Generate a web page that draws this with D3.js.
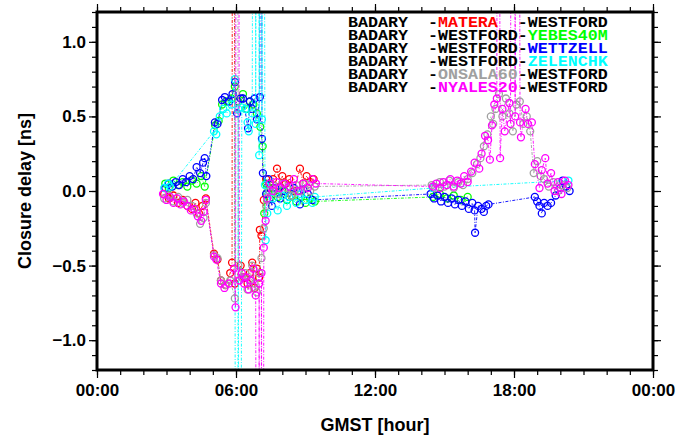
<!DOCTYPE html>
<html><head><meta charset="utf-8">
<script src="https://cdn.jsdelivr.net/npm/d3@7"></script>
<style>
body{margin:0;background:#fff;}
svg{display:block;}
</style></head>
<body><svg id="c" width="687" height="437"></svg>
<script>
// ---- data: [GMST hour, closure delay ns] ----
const matera = [[2.9,-0.02],[3.1,-0.05],[3.3,-0.03],[3.5,-0.08],[3.7,-0.06],[3.9,-0.1],[4.1,-0.12],[4.25,-0.08],[4.4,-0.15],[4.55,-0.1],[4.7,-0.05],[5.05,-0.42],[5.2,-0.46],[5.35,-0.6],[5.55,-0.63],[5.75,-0.55],[5.83,-0.48],[5.87,9],[5.95,-0.62],[6.2,-0.5],[6.35,-0.58],[6.5,-0.62],[6.6,-0.55],[6.7,-0.48],[6.8,-0.65],[6.9,-0.52],[7.0,-0.58],[7.03,-0.26],[7.1,-0.3],[7.2,-0.06],[7.3,0.08],[7.45,0.02],[7.6,0.08],[7.77,0.15],[7.9,0.03],[8.0,0.1],[8.15,0.05],[8.3,0.08],[8.5,0.0],[8.76,0.15],[8.9,0.05],[9.05,0.1],[9.2,0.06],[9.35,0.08]];
const yebes = [[2.95,0.05],[3.1,0.02],[3.3,0.07],[3.5,0.04],[3.7,0.06],[3.9,0.03],[4.1,0.07],[4.3,0.05],[4.5,0.1],[4.65,0.03],[5.1,0.44],[5.25,0.47],[5.4,0.58],[5.6,0.6],[5.8,0.62],[5.95,0.7],[6.1,0.6],[6.3,0.65],[6.45,0.55],[6.6,0.6],[6.75,0.58],[6.9,0.52],[7.05,0.43],[7.15,0.3],[7.22,-0.15],[7.3,0.05],[7.45,-0.05],[7.6,0.02],[7.8,-0.04],[8.0,0.0],[8.2,-0.06],[8.4,-0.03],[8.6,-0.07],[8.8,-0.04],[9.0,-0.08],[9.2,-0.05],[9.4,-0.07],[14.5,-0.04],[14.8,-0.02],[15.1,-0.05],[15.4,-0.03],[15.7,-0.06],[16.0,-0.04]];
const wettzell = [[2.95,0.02],[3.1,0.05],[3.25,0.03],[3.4,0.06],[3.55,0.04],[3.7,0.08],[3.85,0.06],[4.0,0.1],[4.15,0.08],[4.3,0.16],[4.45,0.12],[4.58,0.19],[4.65,0.22],[4.72,0.1],[5.09,0.46],[5.2,0.45],[5.4,0.61],[5.52,0.63],[5.7,0.6],[5.85,0.65],[5.96,0.73],[6.05,0.52],[6.2,0.62],[6.3,0.62],[6.52,0.42],[6.6,0.6],[6.7,0.55],[6.8,0.62],[6.9,0.48],[7.03,0.63],[7.08,9],[7.12,0.35],[7.16,0.12],[7.3,-0.02],[7.4,0.08],[7.55,-0.1],[7.7,0.02],[7.9,-0.05],[8.1,0.0],[8.3,-0.04],[8.5,0.02],[8.76,-0.09],[8.9,0.01],[9.1,-0.02],[9.3,-0.06],[14.4,-0.02],[14.55,-0.05],[14.7,-0.03],[14.85,-0.07],[15.0,-0.04],[15.15,-0.08],[15.3,-0.05],[15.45,-0.09],[15.6,-0.06],[15.75,-0.1],[15.9,-0.07],[16.05,-0.12],[16.2,-0.08],[16.3,-0.13],[16.32,-0.28],[16.45,-0.1],[16.6,-0.12],[16.7,-0.14],[16.8,-0.1],[16.9,-0.09],[18.9,-0.04],[19.0,-0.07],[19.1,-0.1],[19.2,-0.15],[19.3,-0.08],[19.45,-0.1],[19.6,-0.08],[19.8,-0.03],[20.0,0.02],[20.1,0.07],[20.25,0.03],[20.4,0.0]];
const zelenchk = [[2.9,0.02],[3.07,0.05],[3.15,0.03],[5.05,0.4],[5.15,0.38],[5.3,0.5],[5.45,0.55],[5.6,0.52],[5.8,0.58],[5.95,0.75],[6.02,-9],[6.1,0.55],[6.15,-9],[6.25,0.56],[6.4,0.55],[6.5,0.46],[6.55,0.4],[6.7,0.52],[6.8,9],[6.85,0.45],[6.95,9],[7.0,0.24],[7.05,9],[7.12,0.48],[7.15,9],[7.25,0.04],[7.28,-0.33],[7.35,-0.15],[7.45,0.0],[7.6,-0.05],[7.8,-0.13],[8.0,-0.03],[8.2,-0.1],[8.3,-0.04],[8.6,-0.08],[8.8,-0.02],[9.0,-0.06],[9.3,-0.08],[9.4,-0.04],[14.5,0.02],[20.35,0.07]];
const onsala = [[2.9,-0.05],[3.1,-0.03],[3.3,-0.07],[3.5,-0.04],[3.7,-0.08],[3.9,-0.06],[4.1,-0.1],[4.3,-0.15],[4.45,-0.22],[4.6,-0.18],[4.7,-0.08],[5.05,-0.43],[5.2,-0.45],[5.35,-0.6],[5.55,-0.63],[5.75,-0.6],[5.95,-0.72],[6.0,9],[6.1,-0.5],[6.25,-0.58],[6.4,-0.55],[6.5,-0.66],[6.6,-0.6],[6.7,-0.5],[6.8,-0.62],[6.9,-0.68],[7.0,-0.55],[7.1,-0.45],[7.2,-0.25],[7.3,-0.1],[7.45,0.0],[7.6,0.04],[7.8,-0.02],[8.0,0.05],[8.2,0.02],[8.4,-0.03],[8.6,0.04],[8.8,0.0],[9.0,0.05],[9.2,0.0],[9.4,0.03],[14.45,0.04],[14.6,0.02],[14.8,0.06],[15.0,0.03],[15.2,0.07],[15.4,0.02],[15.6,0.06],[15.8,0.04],[16.0,0.08],[16.2,0.12],[16.4,0.18],[16.55,0.22],[16.7,0.3],[16.85,0.38],[17.0,0.5],[17.1,0.45],[17.2,0.55],[17.35,0.65],[17.5,0.5],[17.65,0.62],[17.8,0.52],[17.95,0.4],[18.1,0.58],[18.25,0.6],[18.4,0.45],[18.55,0.5],[18.7,0.4],[18.85,0.12],[19.0,0.2],[19.15,0.1],[19.3,0.08],[19.5,0.03],[19.7,0.06],[19.9,0.0],[20.1,0.04],[20.3,0.02]];
const nyales = [[2.85,-0.02],[3.0,-0.06],[3.15,-0.04],[3.3,-0.08],[3.45,-0.05],[3.6,-0.09],[3.75,-0.07],[3.9,-0.1],[4.05,-0.13],[4.2,-0.12],[4.35,-0.17],[4.5,-0.2],[4.6,-0.14],[4.7,-0.06],[5.05,-0.44],[5.15,-0.46],[5.35,-0.62],[5.5,-0.65],[5.7,-0.62],[5.91,-0.52],[5.98,-0.78],[6.05,9],[6.15,-0.6],[6.25,-0.55],[6.35,-0.62],[6.45,-0.58],[6.55,-0.66],[6.65,-0.6],[6.75,-0.52],[6.85,-0.7],[6.95,-9],[7.0,-0.62],[7.05,-9],[7.1,-0.55],[7.15,-9],[7.2,-0.38],[7.28,-0.2],[7.35,-0.05],[7.45,0.05],[7.6,0.0],[7.75,0.06],[7.9,0.02],[8.1,0.05],[8.3,0.03],[8.5,0.08],[8.7,0.0],[8.9,0.05],[9.1,0.02],[9.3,0.08],[9.45,0.05],[14.5,0.03],[14.65,0.05],[14.8,0.02],[14.95,0.06],[15.1,0.04],[15.25,0.08],[15.4,0.03],[15.55,0.07],[15.7,0.05],[15.85,0.1],[16.0,0.06],[16.15,0.13],[16.3,0.19],[16.5,0.15],[16.6,0.25],[16.75,0.37],[16.88,0.34],[16.96,0.21],[17.05,0.44],[17.15,0.58],[17.26,0.62],[17.3,9],[17.4,0.22],[17.5,0.55],[17.6,0.4],[17.8,0.59],[17.85,0.45],[17.95,9],[18.05,0.5],[18.15,9],[18.26,0.46],[18.3,0.36],[18.5,0.55],[18.6,0.45],[18.77,0.46],[18.9,0.18],[19.1,0.02],[19.2,0.14],[19.35,0.22],[19.45,0.05],[19.6,0.12],[19.75,0.0],[19.9,0.06],[20.05,-0.02],[20.2,0.07],[20.35,0.04]];

const seriesNames = ["MATERA","YEBES40M","WETTZELL","ZELENCHK","ONSALA60","NYALES20"];
const seriesColors = ["#ff0000","#00ff00","#0000ff","#00ffff","#a0a0a0","#ff00ff"];
const seriesData = [matera, yebes, wettzell, zelenchk, onsala, nyales];
const legendRows = [
  ["BADARY  -","MATERA","  -WESTFORD"],
  ["BADARY  -WESTFORD-","YEBES40M",""],
  ["BADARY  -WESTFORD-","WETTZELL",""],
  ["BADARY  -WESTFORD-","ZELENCHK",""],
  ["BADARY  -","ONSALA60","-WESTFORD"],
  ["BADARY  -","NYALES20","-WESTFORD"]
];
const xMajor = [0,6,12,18,24];
const xLabels = ["00:00","06:00","12:00","18:00","00:00"];
const yMajor = [-1.0,-0.5,0.0,0.5,1.0];

const svg = d3.select("#c");
const L=97,R=653,T=12,B=370;
const x = d3.scaleLinear().domain([0,24]).range([L,R]);
const y = d3.scaleLinear().domain([-1.2,1.2]).range([B,T]);

svg.append("defs").append("clipPath").attr("id","clip")
  .append("rect").attr("x",L).attr("y",T).attr("width",R-L).attr("height",B-T);

const plot = svg.append("g").attr("clip-path","url(#clip)");
const line = d3.line().x(d=>x(d[0])).y(d=>y(d[1]));
seriesData.forEach((data,i)=>{
  const g = plot.append("g");
  g.append("path").datum(data).attr("d",line).attr("fill","none")
    .attr("stroke",seriesColors[i]).attr("stroke-width",0.9).attr("stroke-dasharray","3,1.5,1,1.5");
  g.selectAll("circle").data(data).join("circle")
    .attr("cx",d=>x(d[0])).attr("cy",d=>y(d[1])).attr("r",3.5)
    .attr("fill","none").attr("stroke",seriesColors[i]).attr("stroke-width",1.3);
});

// axes
const font = "'Liberation Sans', Arial, sans-serif";
function styleAxis(g){ g.select(".domain").remove(); g.selectAll("line").attr("stroke","#000").attr("stroke-width",1.2); }
const xMinor = d3.range(0,25,1), yMinor = d3.range(-12,13,1).map(v=>v/10);
svg.append("g").attr("transform",`translate(0,${B})`).call(d3.axisBottom(x).tickValues(xMinor).tickSize(5).tickFormat("")).call(styleAxis);
svg.append("g").attr("transform",`translate(0,${T})`).call(d3.axisTop(x).tickValues(xMinor).tickSize(5).tickFormat("")).call(styleAxis);
svg.append("g").attr("transform",`translate(${L},0)`).call(d3.axisLeft(y).tickValues(yMinor).tickSize(5).tickFormat("")).call(styleAxis);
svg.append("g").attr("transform",`translate(${R},0)`).call(d3.axisRight(y).tickValues(yMinor).tickSize(5).tickFormat("")).call(styleAxis);

const xb = svg.append("g").attr("transform",`translate(0,${B})`)
  .call(d3.axisBottom(x).tickValues(xMajor).tickSize(8).tickPadding(6).tickFormat((d,i)=>xLabels[i])).call(styleAxis);
svg.append("g").attr("transform",`translate(0,${T})`).call(d3.axisTop(x).tickValues(xMajor).tickSize(8).tickFormat("")).call(styleAxis);
const yl = svg.append("g").attr("transform",`translate(${L},0)`)
  .call(d3.axisLeft(y).tickValues(yMajor).tickSize(8).tickPadding(3).tickFormat(d=>d3.format(".1f")(d).replace("-","\u2212"))).call(styleAxis);
svg.append("g").attr("transform",`translate(${R},0)`).call(d3.axisRight(y).tickValues(yMajor).tickSize(8).tickFormat("")).call(styleAxis);
[xb,yl].forEach(g=>g.selectAll("text").attr("font-family",font).attr("font-size",17).attr("fill","#000").attr("font-weight","bold"));

svg.append("rect").attr("x",L).attr("y",T).attr("width",R-L).attr("height",B-T)
  .attr("fill","none").attr("stroke","#000").attr("stroke-width",3);

svg.append("text").attr("x",(L+R)/2).attr("y",431).attr("text-anchor","middle")
  .attr("font-family",font).attr("font-size",18).attr("font-weight","bold").text("GMST [hour]");
svg.append("text").attr("transform",`translate(31,${(T+B)/2}) rotate(-90)`).attr("text-anchor","middle")
  .attr("font-family",font).attr("font-size",18).attr("font-weight","bold").text("Closure delay [ns]");

// legend (monospace, slightly stretched horizontally like the original)
const lg = svg.append("g");
legendRows.forEach((r,i)=>{
  const t = lg.append("text").attr("transform",`translate(348,${27+i*13}) scale(1.19,1)`)
    .attr("font-family","'Liberation Mono', 'Courier New', monospace").attr("font-size",14)
    .attr("font-weight","bold").attr("xml:space","preserve").style("white-space","pre");
  t.append("tspan").attr("fill","#000").text(r[0]);
  t.append("tspan").attr("fill",seriesColors[i]).text(r[1]);
  if(r[2]) t.append("tspan").attr("fill","#000").text(r[2]);
});
</script></body></html>
